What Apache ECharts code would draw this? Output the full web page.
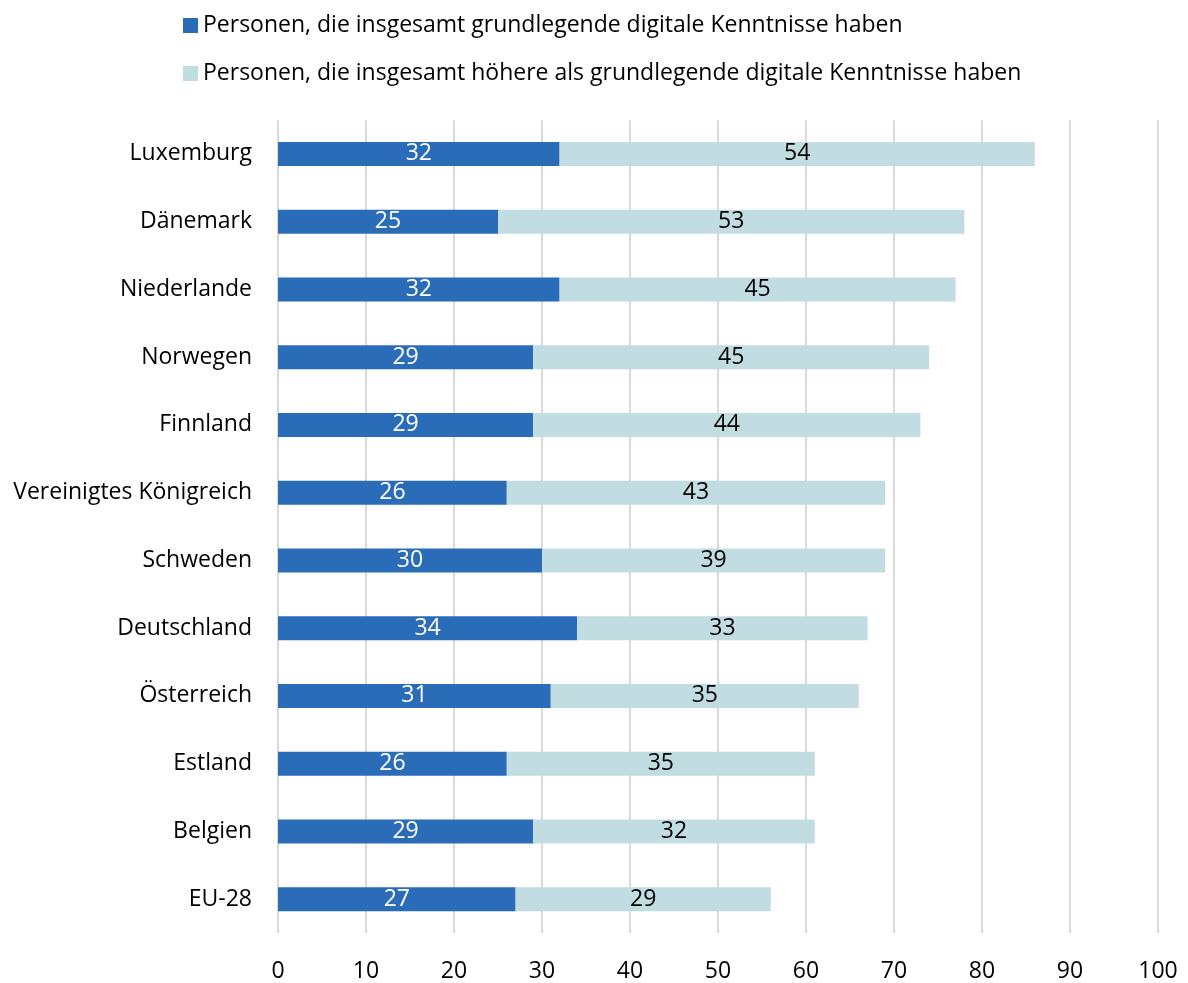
<!DOCTYPE html>
<html>
<head>
<meta charset="utf-8">
<script src="https://cdn.jsdelivr.net/npm/echarts@6/dist/echarts.min.js"></script>
<style>
  html, body { margin: 0; padding: 0; background: #fff; }
  #chart { width: 1188px; height: 983px; }
</style>
</head>
<body>
<div id="chart"></div>
<script>
const countries = ["Luxemburg", "Dänemark", "Niederlande", "Norwegen", "Finnland", "Vereinigtes Königreich", "Schweden", "Deutschland", "Österreich", "Estland", "Belgien", "EU-28"];
const basicSkills = [32, 25, 32, 29, 29, 26, 30, 34, 31, 26, 29, 27];
const aboveBasicSkills = [54, 53, 45, 45, 44, 43, 39, 33, 35, 35, 32, 29];
const seriesNames = [
  "Personen, die insgesamt grundlegende digitale Kenntnisse haben",
  "Personen, die insgesamt höhere als grundlegende digitale Kenntnisse haben"
];

const font = "Open Sans";
const fs = 23;
const chart = echarts.init(document.getElementById("chart"));

chart.setOption({
  animation: false,
  textStyle: { fontFamily: font },
  legend: {
    orient: "vertical",
    left: 178,
    top: 9,
    itemWidth: 15,
    itemHeight: 15,
    itemGap: 25,
    icon: "rect",
    textStyle: { fontSize: fs, color: "#000", fontFamily: font },
    data: seriesNames
  },
  grid: { left: 278, right: 30, top: 120, bottom: 50 },
  xAxis: {
    type: "value",
    min: 0,
    max: 100,
    interval: 10,
    axisLine: { show: false },
    axisTick: { show: false },
    axisLabel: { fontSize: fs, color: "#000", margin: 27 },
    splitLine: { lineStyle: { color: "#d9d9d9", width: 2 } }
  },
  yAxis: {
    type: "category",
    inverse: true,
    data: countries,
    axisLine: { show: false },
    axisTick: { show: false },
    axisLabel: { fontSize: fs, color: "#000", margin: 26 }
  },
  series: [
    {
      name: seriesNames[0],
      type: "bar",
      stack: "total",
      barWidth: 24,
      data: basicSkills,
      itemStyle: { color: "#2b6cb8" },
      label: { show: true, position: "inside", color: "#fff", fontSize: fs, fontFamily: font }
    },
    {
      name: seriesNames[1],
      type: "bar",
      stack: "total",
      barWidth: 24,
      data: aboveBasicSkills,
      itemStyle: { color: "#c2dde1" },
      label: { show: true, position: "inside", color: "#000", fontSize: fs, fontFamily: font }
    }
  ]
});
</script>
</body>
</html>
